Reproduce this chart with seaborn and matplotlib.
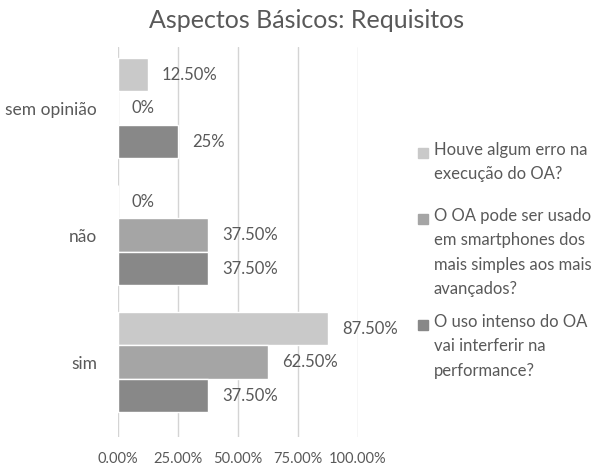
import numpy as np
import pandas as pd
import matplotlib
matplotlib.use("Agg")
import matplotlib.pyplot as plt
import seaborn as sns

# --- data ---
categories = ["sem opinião", "não", "sim"]
questions = [
    "Houve algum erro na\nexecução do OA?",
    "O OA pode ser usado\nem smartphones dos\nmais simples aos mais\navançados?",
    "O uso intenso do OA\nvai interferir na\nperformance?",
]
erro = [12.5, 0.0, 87.5]
smartphones = [0.0, 37.5, 62.5]
performance = [25.0, 37.5, 37.5]
bar_labels = [
    ["12.50%", "0%", "87.50%"],
    ["0%", "37.50%", "62.50%"],
    ["25%", "37.50%", "37.50%"],
]
xticks = [0, 25, 50, 75, 100]
xtick_labels = ["0.00%", "25.00%", "50.00%", "75.00%", "100.00%"]
colors = ["#c9c9c9", "#a5a5a5", "#888888"]

df = pd.DataFrame({
    "categoria": categories * 3,
    "pergunta": np.repeat(questions, 3),
    "valor": erro + smartphones + performance,
})

sns.set_style("white")
plt.rcParams["font.family"] = ["Lato", "DejaVu Sans"]
text_col = "#595959"

W, H = 613, 467
fig = plt.figure(figsize=(W / 100, H / 100), dpi=100)
ax = fig.add_axes([0.1925, 0.064, 0.3915, 0.835])

sns.barplot(data=df, y="categoria", x="valor", hue="pergunta",
            order=categories, hue_order=questions, palette=colors,
            orient="h", width=0.79, saturation=1, ax=ax, legend=False)

for cont, labs in zip(ax.containers, bar_labels):
    ax.bar_label(cont, labels=labs, padding=10, fontsize=12, color=text_col)

ax.set_xlim(0, 100)
ax.set_ylim(2.59, -0.48)
ax.set_xticks(xticks)
ax.set_xticklabels(xtick_labels, fontsize=10.5, color=text_col)
ax.tick_params(axis="x", length=0, pad=11)
ax.tick_params(axis="y", length=0, pad=15, labelsize=12.5, labelcolor=text_col)
ax.grid(axis="x", color="#d4d4d4", linewidth=1)
ax.set_axisbelow(True)
for s in ax.spines.values():
    s.set_visible(False)
ax.set_xlabel("")
ax.set_ylabel("")

fig.suptitle("Aspectos Básicos: Requisitos", x=0.5, y=0.98,
             fontsize=18, color=text_col)

# legend: square at the first line of each wrapped entry (Excel style)
first_line_y = [152, 218, 324]   # pixel rows from the top
for lab, c, py in zip(questions, colors, first_line_y):
    fig.add_artist(plt.Line2D([423 / W], [1 - (py + 1) / H], marker="s",
                              markersize=6.5, color=c, linestyle=""))
    fig.text(434 / W, 1 - (py - 10) / H, lab, ha="left", va="top",
             fontsize=12, color=text_col, linespacing=1.65)

fig.savefig("out.png", dpi=100)
